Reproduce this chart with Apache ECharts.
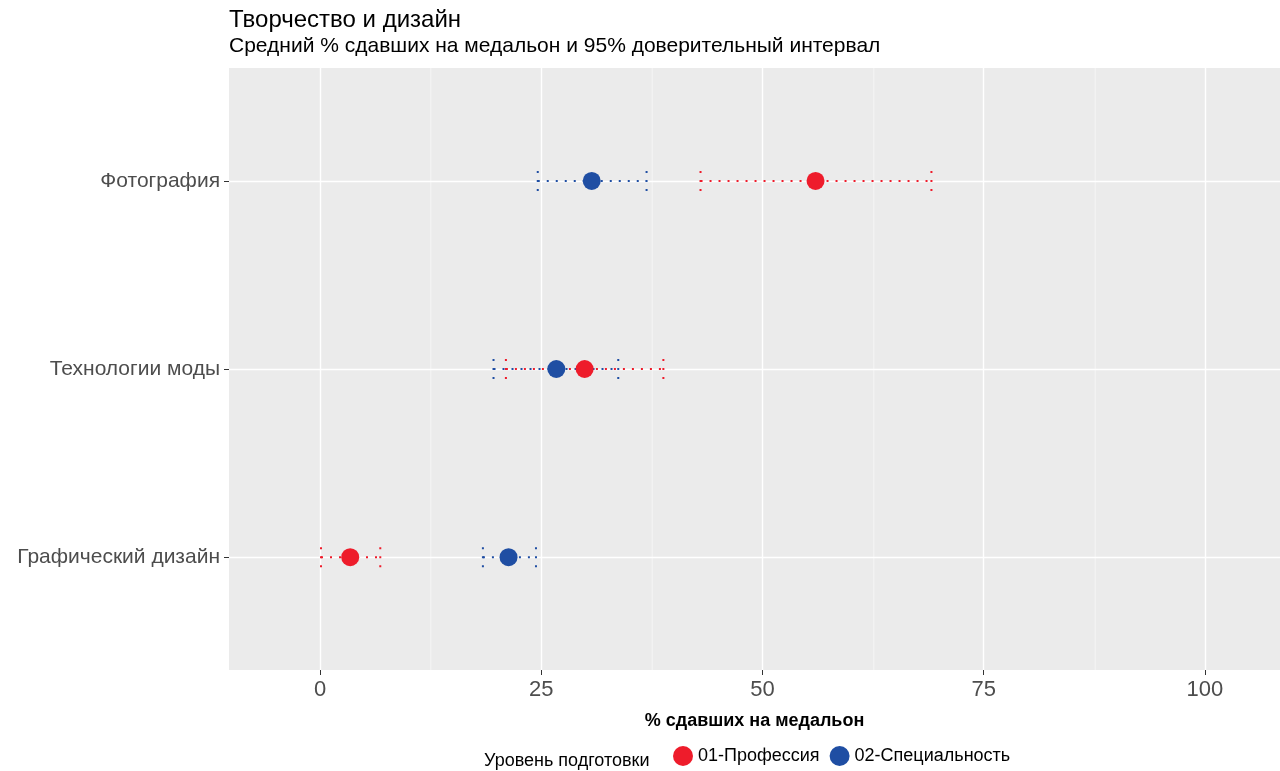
<!DOCTYPE html>
<html><head><meta charset="utf-8">
<script src="https://cdn.jsdelivr.net/npm/echarts@6/dist/echarts.min.js"></script>
<style>html,body{margin:0;background:#fff}#c{width:1280px;height:771px}</style>
</head><body><div id="c"></div>
<script>
const categories = ['Графический дизайн', 'Технологии моды', 'Фотография'];
const profMean = [3.4, 29.9, 56.0];
const profLow = [0.1, 21.0, 43.0];
const profHigh = [6.8, 38.8, 69.1];
const specMean = [21.3, 26.7, 30.7];
const specLow = [18.4, 19.6, 24.6];
const specHigh = [24.4, 33.7, 36.9];
const xTicks = [0, 25, 50, 75, 100];

const chart = echarts.init(document.getElementById('c'));
const font = 'Liberation Sans, Arial, sans-serif';
const RED = '#ee1c2b', BLUE = '#1f4ea3';

function ci(name, color, low, high, z) {
  return {
    type: 'custom', name, z, itemStyle: { color },
    data: categories.map((c, i) => [low[i], high[i], i]),
    renderItem(params, api) {
      const a = api.coord([api.value(0), api.value(2)]);
      const b = api.coord([api.value(1), api.value(2)]);
      const st = { stroke: color, lineWidth: 2, lineDash: [2, 7] };
      return { type: 'group', children: [
        { type: 'line', shape: { x1: a[0], y1: a[1], x2: b[0], y2: b[1] }, style: st },
        { type: 'line', shape: { x1: a[0], y1: a[1] - 10, x2: a[0], y2: a[1] + 10 }, style: st },
        { type: 'line', shape: { x1: b[0], y1: b[1] - 10, x2: b[0], y2: b[1] + 10 }, style: st }
      ]};
    }
  };
}
function pts(name, color, mean, z) {
  return {
    type: 'scatter', name, z, symbolSize: 18, itemStyle: { color, opacity: 1 },
    data: categories.map((c, i) => [mean[i], i])
  };
}

chart.setOption({
  animation: false,
  backgroundColor: '#fff',
  title: {
    text: 'Творчество и дизайн',
    subtext: 'Средний % сдавших на медальон и 95% доверительный интервал',
    left: 224, top: 3, itemGap: 4,
    textStyle: { fontFamily: font, fontSize: 24, fontWeight: 'normal', color: '#000' },
    subtextStyle: { fontFamily: font, fontSize: 21, color: '#000' }
  },
  grid: { left: 229, right: 0, top: 68, bottom: 101, show: true, backgroundColor: '#ebebeb', borderWidth: 0 },
  xAxis: {
    type: 'value', min: -10.3, max: 108.5,
    name: '% сдавших на медальон', nameLocation: 'middle', nameGap: 42,
    nameTextStyle: { fontFamily: font, fontSize: 18, fontWeight: 'bold', color: '#000' },
    axisLine: { show: false, onZero: false },
    axisTick: { show: true, length: 5, lineStyle: { color: '#333' }, customValues: xTicks },
    axisLabel: { fontFamily: font, fontSize: 22, color: '#4d4d4d', margin: 9, customValues: xTicks },
    splitLine: { show: true, lineStyle: { color: '#fff', width: 1.4 }, customValues: xTicks }
  },
  yAxis: {
    type: 'value', min: -0.6, max: 2.6,
    axisLine: { show: false, onZero: false },
    axisTick: { show: true, length: 5, lineStyle: { color: '#333' }, customValues: [0, 1, 2] },
    axisLabel: { fontFamily: font, fontSize: 21, color: '#4d4d4d', margin: 9, customValues: [0, 1, 2],
      formatter: v => categories[Math.round(v)] },
    splitLine: { show: true, lineStyle: { color: '#fff', width: 1.4 }, customValues: [0, 1, 2] }
  },
  legend: {
    bottom: 0, left: 668, itemGap: 10, icon: 'circle', itemWidth: 20, itemHeight: 20,
    data: [{ name: '01-Профессия', itemStyle: { color: RED } }, { name: '02-Специальность', itemStyle: { color: BLUE } }],
    textStyle: { fontFamily: font, fontSize: 18, color: '#000' }
  },
  graphic: [
    { type: 'text', left: 484, bottom: 1, style: { text: 'Уровень подготовки', fontFamily: font, fontSize: 18, fill: '#000' } },
    ...[12.5, 37.5, 62.5, 87.5].map(v => ({
      type: 'line', z: 0,
      shape: { x1: 320 + v * 8.86, y1: 68, x2: 320 + v * 8.86, y2: 670 },
      style: { stroke: '#f5f5f5', lineWidth: 1 }
    }))
  ],
  series: [
    ci('02-Специальность', BLUE, specLow, specHigh, 2),
    ci('01-Профессия', RED, profLow, profHigh, 3),
    pts('02-Специальность', BLUE, specMean, 4),
    pts('01-Профессия', RED, profMean, 5)
  ]
});
</script></body></html>
